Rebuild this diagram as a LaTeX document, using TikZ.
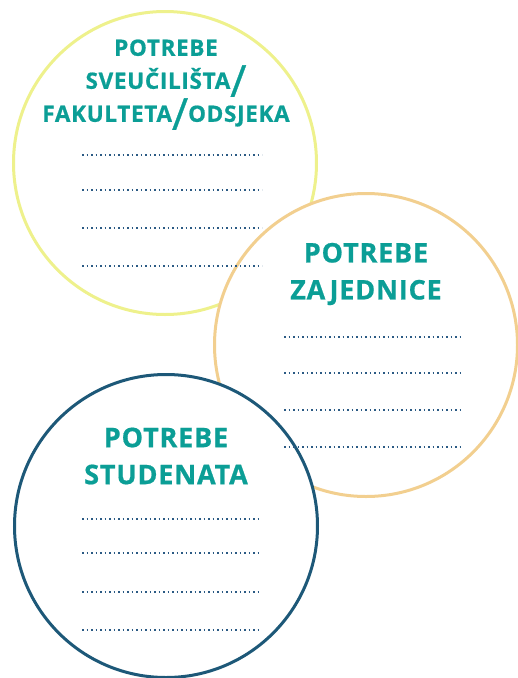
\documentclass[tikz,border=0pt]{standalone}
\usepackage{fontspec}
\setmainfont{Open Sans}
\usetikzlibrary{positioning}
\definecolor{titleteal}{HTML}{0B9E96}
\definecolor{ringyellow}{HTML}{EEF18C}
\definecolor{ringsand}{HTML}{F2CF8F}
\definecolor{ringnavy}{HTML}{1D5878}
\definecolor{dotblue}{HTML}{2B5A84}
\newcommand{\tallslash}{\smash{\raisebox{-8pt}{\fontseries{m}\fontsize{44}{44}\selectfont /}}}

\begin{document}
\begin{tikzpicture}[x=1pt, y=-1pt,
    ring/.style={circle, line width=3pt, fill=white, minimum size=303pt, inner sep=0pt},
    smalltitle/.style={text=titleteal, font=\bfseries\fontsize{22.5}{33}\selectfont\addfontfeatures{LetterSpace=3,FakeBold=0.7}, align=center},
    bigtitle/.style={text=titleteal, font=\bfseries\fontsize{27}{37}\selectfont\addfontfeatures{LetterSpace=3,FakeBold=0.7}, align=center},
    dotrow/.style={draw=dotblue, line width=1.6pt, dash pattern=on 1.6pt off 2.9pt} ]

    \useasboundingbox (0,0) rectangle (518,678);

    %Rings
    \node[ring, draw=ringyellow] (uni) at (165,163) {};
    \node[ring, draw=ringsand] (comm) at (366,345) {};
    \node[ring, draw=ringnavy] (stud) at (166,526) {};

    %Titles
    \node[smalltitle] (uni_title) at (166,83) {POTREBE\\SVEUČILIŠTA\tallslash\\FAKULTETA\tallslash ODSJEKA};
    \node[bigtitle] (comm_title) at (366,274) {POTREBE\\ZAJEDNICE};
    \node[bigtitle] (stud_title) at (166,456) {POTREBE\\STUDENATA};

    %Lines
    \foreach \y in {155,190,228,266}
        \draw[dotrow] (82,\y) -- (262,\y);
    \foreach \y in {337,373,410,447}
        \draw[dotrow] (284,\y) -- (461,\y);
    \foreach \y in {519,553,592,630}
        \draw[dotrow] (82,\y) -- (261,\y);
\end{tikzpicture}
\end{document}
